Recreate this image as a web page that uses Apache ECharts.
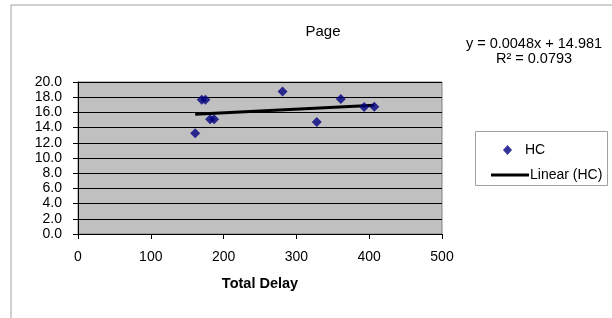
<!DOCTYPE html>
<html><head><meta charset="utf-8">
<script src="https://cdn.jsdelivr.net/npm/echarts@6/dist/echarts.min.js"></script>
<style>html,body{margin:0;padding:0;background:#fff}#c{width:612px;height:318px}</style>
</head><body><div id="c"></div>
<script>
var totalDelay = [161, 170, 175, 181.5, 187, 281, 328, 361, 393, 407];
var hcValues = [13.25, 17.65, 17.65, 15.1, 15.1, 18.75, 14.75, 17.75, 16.7, 16.75];
var slope = 0.0048, intercept = 14.981, r2 = 0.0793;
var yTicks = [0, 2, 4, 6, 8, 10, 12, 14, 16, 18, 20];
var xTicks = [0, 100, 200, 300, 400, 500];

var pts = totalDelay.map(function (x, i) { return [x, hcValues[i]]; });
var xmin = Math.min.apply(null, totalDelay), xmax = Math.max.apply(null, totalDelay);
var trend = [[xmin, intercept + slope * xmin], [xmax, intercept + slope * xmax]];
var font = 'Liberation Sans, Arial, sans-serif';
var fs = 14;

var chart = echarts.init(document.getElementById('c'), null, {renderer: 'canvas'});
chart.setOption({
  animation: false,
  textStyle: {fontFamily: font},
  title: {text: 'Page', left: 323, top: 24, padding: 0, textAlign: 'center',
    textStyle: {fontSize: 15, fontWeight: 'normal', color: '#000', fontFamily: font}},
  grid: {left: 78, right: 170, top: 82, bottom: 84, show: true,
    backgroundColor: '#C0C0C0', borderColor: '#808080', borderWidth: 1},
  xAxis: {type: 'value', min: xTicks[0], max: xTicks[xTicks.length - 1], interval: 100,
    name: 'Total Delay', nameLocation: 'middle', nameGap: 42,
    nameTextStyle: {fontSize: 14.5, fontWeight: 'bold', color: '#000', fontFamily: font},
    axisLine: {show: true, onZero: false, lineStyle: {color: '#000'}},
    axisTick: {show: true, length: 5, lineStyle: {color: '#000'}},
    axisLabel: {margin: 16, fontSize: fs, color: '#000', fontFamily: font},
    splitLine: {show: false}},
  yAxis: {type: 'value', min: yTicks[0], max: yTicks[yTicks.length - 1], interval: 2,
    axisLine: {show: true, onZero: false, lineStyle: {color: '#000'}},
    axisTick: {show: true, length: 5, lineStyle: {color: '#000'}},
    axisLabel: {margin: 16, fontSize: fs, color: '#000', fontFamily: font,
      formatter: function (v) { return v.toFixed(1); }},
    splitLine: {show: true, lineStyle: {color: '#000', width: 1}}},
  legend: [
    {data: [{name: 'HC', icon: 'diamond'}], orient: 'vertical', left: 498, top: 138,
      itemWidth: 9, itemHeight: 10, itemGap: 0, textStyle: {fontSize: fs, color: '#000', fontFamily: font, padding: [0, 0, 0, 8]}},
    {data: [{name: 'Linear (HC)', icon: 'rect'}], orient: 'vertical', left: 486, top: 163,
      itemWidth: 38, itemHeight: 3, itemGap: 0, textStyle: {fontSize: fs, color: '#000', fontFamily: font, padding: [0, 0, 0, -4]}}
  ],
  graphic: [
    {type: 'rect', shape: {x: 11, y: 5, width: 700, height: 400}, style: {fill: 'none', stroke: '#A0A0A0', lineWidth: 1}, silent: true, z: -10},
    {type: 'rect', shape: {x: 475.5, y: 131.5, width: 132, height: 54}, style: {fill: '#fff', stroke: '#A0A0A0', lineWidth: 1}, z: -5},
    {type: 'text', x: 534, y: 36, style: {text: 'y = ' + slope + 'x + ' + intercept, fontSize: 14.5, fill: '#000', fontFamily: font, textAlign: 'center'}},
    {type: 'text', x: 534, y: 51, style: {text: 'R² = ' + r2, fontSize: 14.5, fill: '#000', fontFamily: font, textAlign: 'center'}}
  ],
  series: [
    {name: 'HC', type: 'scatter', data: pts, symbol: 'diamond', symbolSize: 10,
      itemStyle: {color: '#000080'}, z: 3},
    {name: 'Linear (HC)', type: 'line', data: trend, symbol: 'none',
      lineStyle: {color: '#000', width: 3}, itemStyle: {color: '#000'}, z: 2}
  ]
});
</script></body></html>
